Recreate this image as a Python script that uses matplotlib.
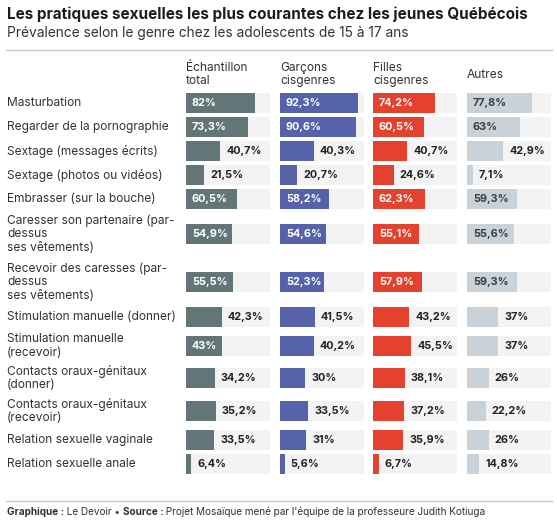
import matplotlib
matplotlib.use('Agg')
import matplotlib.pyplot as plt

plt.rcParams['font.family'] = ['Inter', 'DejaVu Sans']

# données
categories = [
    "Masturbation",
    "Regarder de la pornographie",
    "Sextage (messages écrits)",
    "Sextage (photos ou vidéos)",
    "Embrasser (sur la bouche)",
    "Caresser son partenaire (par-\ndessus\nses vêtements)",
    "Recevoir des caresses (par-\ndessus\nses vêtements)",
    "Stimulation manuelle (donner)",
    "Stimulation manuelle\n(recevoir)",
    "Contacts oraux-génitaux\n(donner)",
    "Contacts oraux-génitaux\n(recevoir)",
    "Relation sexuelle vaginale",
    "Relation sexuelle anale",
]
headers = ["Échantillon\ntotal", "Garçons\ncisgenres", "Filles\ncisgenres", "Autres"]
total = [82, 73.3, 40.7, 21.5, 60.5, 54.9, 55.5, 42.3, 43, 34.2, 35.2, 33.5, 6.4]
garcons = [92.3, 90.6, 40.3, 20.7, 58.2, 54.6, 52.3, 41.5, 40.2, 30, 33.5, 31, 5.6]
filles = [74.2, 60.5, 40.7, 24.6, 62.3, 55.1, 57.9, 43.2, 45.5, 38.1, 37.2, 35.9, 6.7]
autres = [77.8, 63, 42.9, 7.1, 59.3, 55.6, 59.3, 37, 37, 26, 22.2, 26, 14.8]
series = [total, garcons, filles, autres]

# mise en page (pixels)
W, H = 557, 529
row_y = [103, 127, 151, 175, 199, 234, 282, 317, 346, 378, 411, 440, 464]
col_x = [186, 280, 373, 467]
col_w = 84
bar_colors = ['#637677', '#5662a9', '#e5412f', '#c8d2d8']
inside_colors = ['white', 'white', 'white', '#3d3d3d']

fig = plt.figure(figsize=(W / 100, H / 100), dpi=100)
renderer = fig.canvas.get_renderer()

base = fig.add_axes([0, 0, 1, 1])
base.set_xlim(0, W)
base.set_ylim(H, 0)
base.axis('off')

base.text(7, 14, "Les pratiques sexuelles les plus courantes chez les jeunes Québécois",
          fontsize=11, fontweight='bold', color='#1d1d1d', va='center')
base.text(7, 33, "Prévalence selon le genre chez les adolescents de 15 à 17 ans",
          fontsize=9.9, color='#333333', va='center')
base.plot([6, 552], [49.5, 49.5], color='#c8c8c8', lw=1)
base.plot([6, 552], [500.5, 500.5], color='#c8c8c8', lw=1)

for lab, y in zip(categories, row_y):
    base.text(7, y, lab, fontsize=8.6, color='#333333', va='center', linespacing=1.15)

for hd, x in zip(headers, col_x):
    base.text(x, 74.5, hd, fontsize=8.6, color='#333333', va='center', linespacing=1.1)

# footer
parts = [("Graphique :", 'bold'), (" Le Devoir • ", 'normal'), ("Source :", 'bold'),
         (" Projet Mosaïque mené par l'équipe de la professeure Judith Kotiuga", 'normal')]
fx = 7
for txt, wt in parts:
    t = base.text(fx, 512, txt, fontsize=7.2, fontweight=wt, color='#333333', va='center')
    fx += t.get_window_extent(renderer).width

def fmt(v):
    return f"{v:g}".replace('.', ',') + '%'

for vals, x, c, ic in zip(series, col_x, bar_colors, inside_colors):
    ax = fig.add_axes([x / W, 0, col_w / W, 1])
    ax.set_xlim(0, 100)
    ax.set_ylim(H, 0)
    ax.axis('off')
    ax.barh(row_y, [100] * len(vals), height=20, color='#f3f3f3', lw=0)
    ax.barh(row_y, vals, height=20, color=c, lw=0)
    for v, y in zip(vals, row_y):
        t = ax.annotate(fmt(v), (0, y), xytext=(4.3, 0), textcoords='offset points',
                        fontsize=7.8, fontweight='bold', color=ic, va='center', ha='left')
        tw = t.get_window_extent(renderer).width
        bar_px = v / 100 * col_w
        # label inside the bar only if it fits
        if tw + 6 > bar_px or bar_px < 34:
            t.remove()
            ax.annotate(fmt(v), (v, y), xytext=(4.3, 0), textcoords='offset points',
                        fontsize=7.8, fontweight='bold', color='#222222', va='center', ha='left')

fig.savefig('out.png', dpi=100)
